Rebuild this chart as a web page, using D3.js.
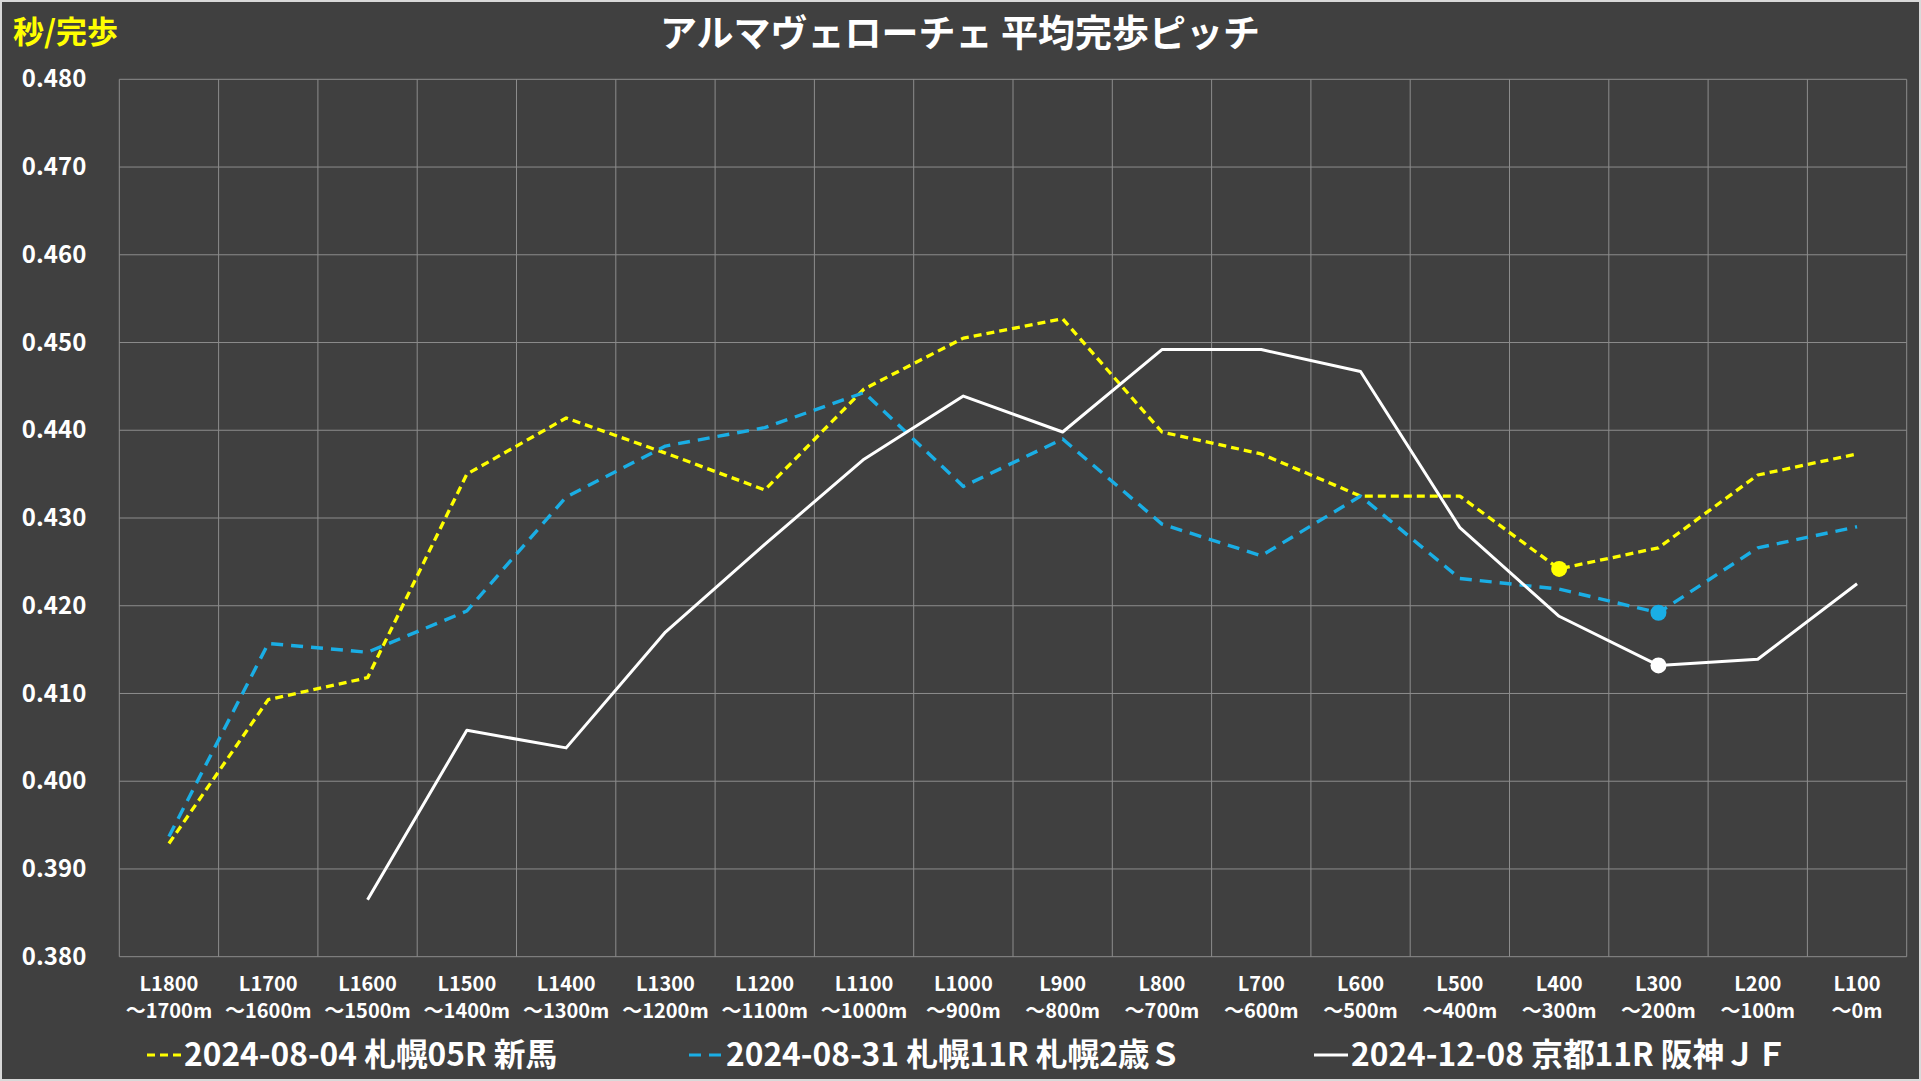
<!DOCTYPE html>
<html>
<head>
<meta charset="utf-8">
<script src="https://cdn.jsdelivr.net/npm/d3@7"></script>
<style>
  html, body { margin: 0; padding: 0; background: #404040; }
  svg { display: block; }
  text { font-family: "Noto Sans CJK JP", "Noto Sans", sans-serif; font-weight: bold; }
</style>
</head>
<body>
<div id="app"></div>
<script>
const SECTIONS = ['L1800', 'L1700', 'L1600', 'L1500', 'L1400', 'L1300', 'L1200', 'L1100', 'L1000',
  'L900', 'L800', 'L700', 'L600', 'L500', 'L400', 'L300', 'L200', 'L100'];
const SECTION_ENDS = ['～1700m', '～1600m', '～1500m', '～1400m', '～1300m', '～1200m', '～1100m', '～1000m',
  '～900m', '～800m', '～700m', '～600m', '～500m', '～400m', '～300m', '～200m', '～100m', '～0m'];

const Y_TICKS = [0.38, 0.39, 0.40, 0.41, 0.42, 0.43, 0.44, 0.45, 0.46, 0.47, 0.48];

const RACE_NAMES = ['2024-08-04 札幌05R 新馬', '2024-08-31 札幌11R 札幌2歳Ｓ', '2024-12-08 京都11R 阪神ＪＦ'];

const PITCH_0804 = [0.3929, 0.4093, 0.4118, 0.4350, 0.4414, 0.4374, 0.4332, 0.4447, 0.4505,
  0.4527, 0.4398, 0.4373, 0.4325, 0.4325, 0.4242, 0.4266, 0.4349, 0.4373];
const PITCH_0831 = [0.3937, 0.4157, 0.4147, 0.4194, 0.4324, 0.4382, 0.4403, 0.4443, 0.4336,
  0.4390, 0.4293, 0.4257, 0.4325, 0.4231, 0.4219, 0.4192, 0.4266, 0.4290];
const PITCH_1208 = [null, null, 0.3865, 0.4058, 0.4038, 0.4170, 0.4270, 0.4367, 0.4439,
  0.4398, 0.4492, 0.4492, 0.4467, 0.4289, 0.4188, 0.4132, 0.4139, 0.4225];

// section that gets the dot on each line
const MARK_SECTION = ['L400', 'L300', 'L300'];

const W = 1921, H = 1081;
const plot = { left: 119.3, right: 1906.7, top: 79.3, bottom: 956.7 };

const series = [
  { name: RACE_NAMES[0], values: PITCH_0804, mark: MARK_SECTION[0], color: '#FFFF00', dash: '8,5', width: 3.3, legendX: 147, textX: 184 },
  { name: RACE_NAMES[1], values: PITCH_0831, mark: MARK_SECTION[1], color: '#1AAEE5', dash: '12,8', width: 3.4, legendX: 689, textX: 726 },
  { name: RACE_NAMES[2], values: PITCH_1208, mark: MARK_SECTION[2], color: '#FFFFFF', dash: null, width: 3, legendX: 1314, textX: 1351 },
];

const svg = d3.select('#app').append('svg')
  .attr('width', W)
  .attr('height', H);

svg.append('rect')
  .attr('x', 1).attr('y', 1)
  .attr('width', W - 2).attr('height', H - 2)
  .attr('fill', '#404040')
  .attr('stroke', '#D9D9D9')
  .attr('stroke-width', 2);

const x = d3.scaleBand().domain(SECTIONS).range([plot.left, plot.right]).padding(0);
const y = d3.scaleLinear().domain([0.38, 0.48]).range([plot.bottom, plot.top]);

// grid
const grid = svg.append('g').attr('stroke', '#8C8C8C').attr('stroke-width', 1);
grid.selectAll('line.h')
  .data(Y_TICKS)
  .enter()
  .append('line')
  .attr('x1', plot.left).attr('x2', plot.right)
  .attr('y1', (d) => y(d)).attr('y2', (d) => y(d));
grid.selectAll('line.v')
  .data(SECTIONS.map((s) => x(s)).concat([plot.right]))
  .enter()
  .append('line')
  .attr('x1', (d) => d).attr('x2', (d) => d)
  .attr('y1', plot.top).attr('y2', plot.bottom);

// y axis labels
const yAxis = svg.append('g')
  .attr('transform', `translate(${plot.left - 30},0)`)
  .call(d3.axisLeft(y).tickValues(Y_TICKS).tickFormat(d3.format('.3f')).tickSize(0));
yAxis.select('.domain').remove();
yAxis.selectAll('text')
  .attr('fill', '#FFFFFF')
  .attr('font-size', 24)
  .attr('font-family', '"Noto Sans CJK JP", sans-serif')
  .attr('font-weight', 'bold');

// x axis labels, two lines each
const xl = svg.append('g')
  .selectAll('text')
  .data(SECTIONS)
  .enter()
  .append('text')
  .attr('text-anchor', 'middle')
  .attr('fill', '#FFFFFF')
  .attr('font-size', 20);
xl.append('tspan')
  .attr('x', (d) => x(d) + x.bandwidth() / 2)
  .attr('y', 991)
  .text((d) => d);
xl.append('tspan')
  .attr('x', (d) => x(d) + x.bandwidth() / 2)
  .attr('y', 1018)
  .text((d, i) => SECTION_ENDS[i]);

// lines
const line = d3.line()
  .defined((d) => d != null)
  .x((d, i) => x(SECTIONS[i]) + x.bandwidth() / 2)
  .y((d) => y(d));

svg.append('g')
  .selectAll('path')
  .data(series)
  .enter()
  .append('path')
  .attr('d', (d) => line(d.values))
  .attr('fill', 'none')
  .attr('stroke', (d) => d.color)
  .attr('stroke-width', (d) => d.width)
  .attr('stroke-dasharray', (d) => d.dash)
  .attr('stroke-linejoin', 'round');

svg.append('g')
  .selectAll('circle')
  .data(series)
  .enter()
  .append('circle')
  .attr('cx', (d) => x(d.mark) + x.bandwidth() / 2)
  .attr('cy', (d) => y(d.values[SECTIONS.indexOf(d.mark)]))
  .attr('r', 8)
  .attr('fill', (d) => d.color);

// titles
svg.append('text')
  .attr('x', 960).attr('y', 47)
  .attr('text-anchor', 'middle')
  .attr('fill', '#FFFFFF')
  .attr('font-size', 37)
  .attr('font-weight', 500)
  .text('アルマヴェローチェ 平均完歩ピッチ');

svg.append('text')
  .attr('x', 13).attr('y', 43)
  .attr('fill', '#FFFF00')
  .attr('font-size', 31)
  .text('秒/完歩');

// legend
const legend = svg.append('g')
  .selectAll('g')
  .data(series)
  .enter()
  .append('g');
legend.append('line')
  .attr('x1', (d) => d.legendX).attr('x2', (d) => d.legendX + 34)
  .attr('y1', 1055).attr('y2', 1055)
  .attr('stroke', (d) => d.color)
  .attr('stroke-width', 3)
  .attr('stroke-dasharray', (d) => d.dash);
legend.append('text')
  .attr('x', (d) => d.textX).attr('y', 1066)
  .attr('fill', '#FFFFFF')
  .attr('font-size', 31.7)
  .text((d) => d.name);
</script>
</body>
</html>
